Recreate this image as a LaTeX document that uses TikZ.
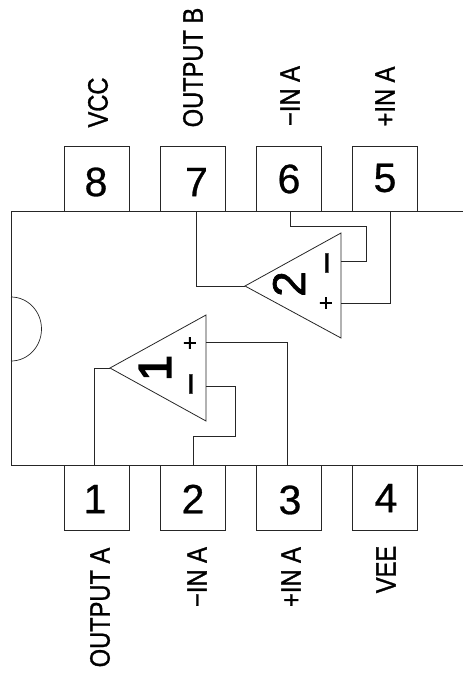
\documentclass[tikz,border=0pt]{standalone}
\usepackage{fontspec}
\setmainfont{Liberation Sans}
\newfontfamily\labelfont[FakeBold=1.2]{Liberation Sans}
\newfontfamily\numfont[FakeBold=0.7]{Liberation Sans}
\newfontfamily\ampfont[FakeBold=1.5]{Liberation Sans}
\newfontfamily\onefont[FakeBold=3.5]{Liberation Sans}
\tikzset{
  x=1pt,y=-1pt,
  wire/.style={line width=0.8pt,black!85},
  pinbox/.style={draw,line width=0.8pt,black!85,minimum size=65pt,inner sep=0pt,outer sep=0pt},
  pinnum/.style={inner sep=0pt,font=\numfont\fontsize{41}{41}\selectfont},
  pinlabel/.style={inner sep=0pt,rotate=90,font=\labelfont\fontsize{28}{28}\selectfont},
  ampnum/.style={inner sep=0pt,rotate=90,font=\ampfont\fontsize{46}{46}\selectfont},
  ampone/.style={inner sep=0pt,rotate=90,font=\onefont\fontsize{46}{46}\selectfont},
  plussign/.style={inner sep=0pt,rotate=90,font=\numfont\fontsize{24}{24}\selectfont},
  minussign/.style={inner sep=0pt,rotate=90,font=\numfont\fontsize{40}{40}\selectfont},
}
\newcommand{\cond}[1]{\scalebox{0.845}[1]{#1}}
\begin{document}
\begin{tikzpicture}
\useasboundingbox (0,0) rectangle (463,675);
% package outline
\draw[wire] (463,211) -- (11,211) -- (11,465) -- (463,465);
\draw[wire,line width=0.7pt] (11,297) arc[start angle=90,end angle=-90,x radius=30.5pt,y radius=32pt];
% pins
\foreach \n/\cx/\cy in {8/97/178.5,7/193/178.5,6/289/178.5,5/385/178.5,1/97/497.5,2/193/497.5,3/289/497.5,4/385/497.5}
  \node[pinbox] (p\n) at (\cx,\cy) {};
\node[pinnum] (n8) at (96,182) {8};
\node[pinnum] (n7) at (196.5,182) {7};
\node[pinnum] (n6) at (289,179) {6};
\node[pinnum] (n5) at (385,178) {5};
\node[pinnum] (n1) at (95,499) {1};
\node[pinnum] (n2) at (193,499) {2};
\node[pinnum] (n3) at (290,500) {3};
\node[pinnum] (n4) at (386,498) {4};
% labels
\node[pinlabel] (l8) at (98,102.5) {\cond{VCC}};
\node[pinlabel] (l7) at (193,67.5) {\cond{OUTPUT B}};
\node[pinlabel] (l6) at (290,96) {\cond{−IN A}};
\node[pinlabel] (l5) at (385,96.5) {\cond{+IN A}};
\node[pinlabel] (l1) at (100,607.5) {\cond{OUTPUT A}};
\node[pinlabel] (l2) at (197,577) {\cond{−IN A}};
\node[pinlabel] (l3) at (291,577) {\cond{+IN A}};
\node[pinlabel] (l4) at (386,569.5) {\cond{VEE}};
% op amps
\coordinate (b) at (341,233); \coordinate (b2) at (341,338); \coordinate (o2) at (245,286);
\coordinate (a) at (206,315); \coordinate (a2) at (206,421); \coordinate (o1) at (110,368);
\draw[wire] (o2) -- (b) -- (b2) -- cycle;
\draw[wire] (o1) -- (a) -- (a2) -- cycle;
\node[ampnum] (amp2) at (289,284) {2};
\node[ampone] (amp1) at (155,368) {1};
\node[plussign] (ap2) at (327,303) {+};
\node[minussign] (am2) at (333,263) {−};
\node[plussign] (ap1) at (191,343) {+};
\node[minussign] (am1) at (197,384) {−};
% ports
\coordinate (i2m) at (341,261); \coordinate (i2p) at (341,303);
\coordinate (i1p) at (206,342.5); \coordinate (i1m) at (206,386);
\coordinate (s7) at (196,211); \coordinate (s6) at (290.5,211); \coordinate (s5) at (390.5,211);
\coordinate (s1) at (94.5,465); \coordinate (s2) at (193.5,465); \coordinate (s3) at (287.5,465);
% connectors
\draw[wire] (s7) |- (o2);
\draw[wire] (s6) -- ++(0,15) -| (366.5,261) -- (i2m);
\draw[wire] (s5) |- (i2p);
\draw[wire] (s1) |- (o1);
\draw[wire] (s2) -- ++(0,-28.5) -| (235,386) -- (i1m);
\draw[wire] (s3) |- (i1p);
\end{tikzpicture}
\end{document}
